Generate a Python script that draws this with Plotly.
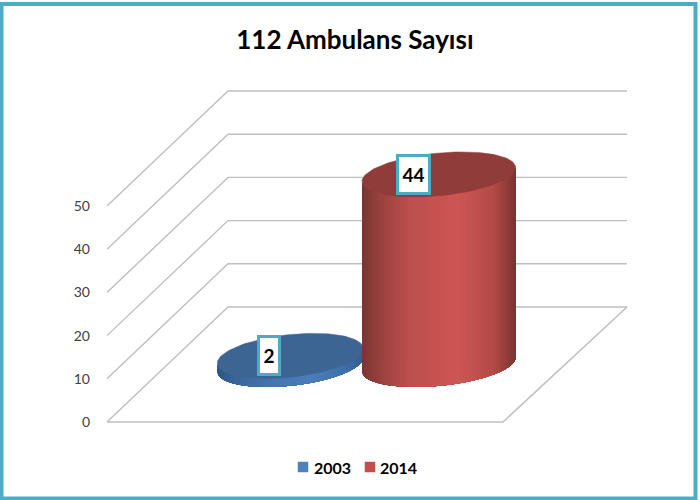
import numpy as np
import plotly.graph_objects as go

# --- data ---
categories = ["2003", "2014"]
values = [2, 44]
tick_values = [0, 10, 20, 30, 40, 50]
title_text = "112 Ambulans Sayısı"

# --- frame of the oblique 3D box (one x unit = one pixel, y in value units) ---
W, H = 700, 500
ML, MR, MT, MB = 107, 0, 0, 0
FRONT_PX_Y = 422
PX_PER_VALUE = 4.32
FLOOR_W = 396
DEPTH_X = 121
DEPTH_Y = 115 / PX_PER_VALUE
X_RANGE = [0, W - ML - MR]
Y_RANGE = [(FRONT_PX_Y - H) / PX_PER_VALUE, FRONT_PX_Y / PX_PER_VALUE]
GRID = "#c0c0c0"
FONT = "Lato"

# geometry and colours of each cylinder
x_frac = [0.310, 0.685]
u_rad = [69, 73]
stop_pos = [0.0, 0.12, 0.3, 0.62, 0.85, 1.0]
side_stops = [
    ["#2f5684", "#3a659a", "#4272ab", "#4a7ebb", "#4070aa", "#34608f"],
    ["#7b3533", "#9c4240", "#bd4f4c", "#cd5653", "#b34a47", "#7a3331"],
]
top_col = ["#3d6594", "#903c3a"]
swatch = ["#4f81bd", "#c0504d"]
label_dx = [-21, -25]
label_size = [(18, 35), (29, 35)]
legend_sq_px = [303, 370]
legend_txt_px = [332, 398.5]
LEGEND_PX_Y = 467


def mix(stops, t):
    pts = np.array([[int(s[i:i + 2], 16) for i in (1, 3, 5)] for s in stops], float)
    rgb = [np.interp(t, stop_pos, pts[:, k]) for k in range(3)]
    return "rgb(%d,%d,%d)" % tuple(int(round(c)) for c in rgb)


fig = go.Figure()

# walls and floor
for v in tick_values:
    fig.add_trace(go.Scatter(
        x=[0, DEPTH_X, DEPTH_X + FLOOR_W + 3], y=[v, v + DEPTH_Y, v + DEPTH_Y],
        mode="lines", line=dict(color=GRID, width=1.4),
        hoverinfo="skip", showlegend=False, cliponaxis=False))
fig.add_trace(go.Scatter(
    x=[0, FLOOR_W, FLOOR_W + DEPTH_X + 3], y=[0, 0, DEPTH_Y],
    mode="lines", line=dict(color=GRID, width=1.6),
    hoverinfo="skip", showlegend=False, cliponaxis=False))

annotations = []
legend_y = (FRONT_PX_Y - LEGEND_PX_Y) / PX_PER_VALUE
for i, (name, val) in enumerate(zip(categories, values)):
    cx = x_frac[i] * FLOOR_W + DEPTH_X / 2
    cy = DEPTH_Y / 2
    ux = u_rad[i]
    vx, vy = 23.7, 22.5 / PX_PER_VALUE
    th0 = np.arctan2(vx, ux)

    def px(th):
        return cx + ux * np.cos(th) + vx * np.sin(th)

    def py(th):
        return vy * np.sin(th)

    # side wall: painter's bands, each reaching to the right silhouette, so no seams
    n = 70
    edges = np.linspace(th0 - np.pi, th0, n + 1)
    xs_all = px(edges)
    xmin, xmax = xs_all.min(), xs_all.max()
    for k in range(n):
        th = np.linspace(edges[k], th0, 40)
        xx = np.concatenate([px(th), px(th[::-1])])
        yy = np.concatenate([cy + py(th), cy + val + py(th[::-1])])
        t = (px(edges[k]) - xmin) / (xmax - xmin)
        fig.add_trace(go.Scatter(
            x=xx, y=yy, mode="lines", fill="toself", fillcolor=mix(side_stops[i], t),
            line=dict(width=0), hoverinfo="skip",
            showlegend=False, cliponaxis=False))
    th = np.linspace(0, 2 * np.pi, 121)
    fig.add_trace(go.Scatter(
        x=px(th), y=cy + val + py(th), mode="lines", fill="toself",
        fillcolor=top_col[i], line=dict(color=top_col[i], width=0.5),
        hoverinfo="skip", showlegend=False, cliponaxis=False))
    # legend entry
    fig.add_trace(go.Scatter(
        x=[legend_sq_px[i] - ML], y=[legend_y], mode="markers", name=name,
        marker=dict(symbol="square", size=10.5, color=swatch[i]),
        showlegend=False, cliponaxis=False, hoverinfo="skip"))
    annotations.append(dict(
        x=legend_txt_px[i] - ML, y=legend_y, xref="x", yref="y", text=name,
        showarrow=False, xanchor="center", yanchor="middle",
        font=dict(family=FONT, size=16, color="black", weight=700)))
    annotations.append(dict(
        x=cx + label_dx[i], y=cy + val, xref="x", yref="y", text=str(val),
        showarrow=False, font=dict(family=FONT, size=19, color="black", weight=700),
        bgcolor="white", bordercolor="#4bacc6", borderwidth=3,
        width=label_size[i][0], height=label_size[i][1], borderpad=0,
        xanchor="center", yanchor="middle"))

PLOT_W = W - ML - MR
fig.update_layout(
    width=W, height=H, autosize=False, showlegend=False,
    margin=dict(l=ML, r=MR, t=MT, b=MB, pad=0),
    paper_bgcolor="white", plot_bgcolor="rgba(0,0,0,0)",
    title=dict(text=title_text, x=0.507, xanchor="center", y=0.92, yanchor="middle",
               font=dict(family=FONT, size=26, color="black", weight=700)),
    xaxis=dict(range=X_RANGE, visible=False, fixedrange=True),
    yaxis=dict(range=Y_RANGE, tickvals=tick_values, showgrid=False, zeroline=False,
               showline=False, ticks="", ticklabelstandoff=16, fixedrange=True,
               tickfont=dict(family=FONT, size=14, color="#404040")),
    annotations=annotations,
    shapes=[dict(type="rect", xref="paper", yref="paper",
                 x0=(1.5 - ML) / PLOT_W, x1=(695.5 - ML) / PLOT_W,
                 y0=(H - 498.5) / H, y1=(H - 4) / H,
                 line=dict(color="#4bacc6", width=4), fillcolor="rgba(0,0,0,0)", layer="above")],
)

fig.write_html("out.html", config=dict(displayModeBar=False),
               post_script="document.body.style.margin='0';")
